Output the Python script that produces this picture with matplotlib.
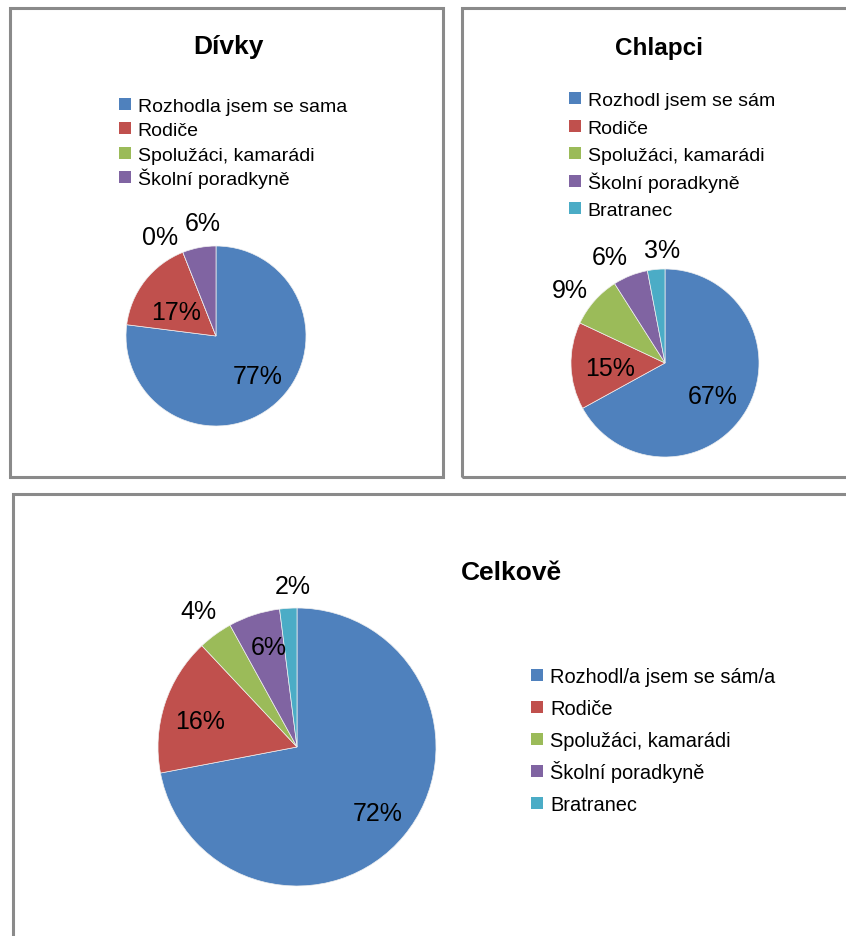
import numpy as np
import matplotlib
matplotlib.use("Agg")
import matplotlib.pyplot as plt
from matplotlib.patches import Rectangle
from matplotlib.legend_handler import HandlerBase

plt.rcParams['font.family'] = ['Liberation Sans', 'DejaVu Sans']

# ---- data ----
girls_labels = ["Rozhodla jsem se sama", "Rodiče", "Spolužáci, kamarádi", "Školní poradkyně"]
girls_values = [77, 17, 0, 6]

boys_labels = ["Rozhodl jsem se sám", "Rodiče", "Spolužáci, kamarádi", "Školní poradkyně", "Bratranec"]
boys_values = [67, 15, 9, 6, 3]

total_labels = ["Rozhodl/a jsem se sám/a", "Rodiče", "Spolužáci, kamarádi", "Školní poradkyně", "Bratranec"]
total_values = [72, 16, 4, 6, 2]

titles = ["Dívky", "Chlapci", "Celkově"]

colors = ["#4F81BD", "#C0504D", "#9BBB59", "#8064A2", "#4BACC6"]

W, H = 846, 937
fig = plt.figure(figsize=(W / 100, H / 100), dpi=100)


def fx(x):
    return x / W


def fy(y):
    return 1 - y / H


def px_axes(cx, cy, r):
    return fig.add_axes([fx(cx - r), fy(cy + r), 2 * r / W, 2 * r / H])


# panel borders
for (x0, y0, x1, y1) in [(9.5, 8.5, 442.5, 477.5), (461.5, 8.5, 900, 477.5), (12.5, 495.5, 900, 1000)]:
    fig.patches.append(Rectangle((fx(x0), fy(y1)), (x1 - x0) / W, (y1 - y0) / H,
                                 transform=fig.transFigure, fill=False,
                                 edgecolor="#8a8a8a", linewidth=2.2, zorder=0))


def draw_pie(values, cx, cy, r, dists, angle_off, fs):
    ax = px_axes(cx, cy, r)
    wedges, _ = ax.pie(values, colors=colors[:len(values)], startangle=90,
                       counterclock=False, radius=1,
                       wedgeprops=dict(linewidth=0.5, edgecolor="#f0f0f0"))
    ax.set_xlim(-1, 1)
    ax.set_ylim(-1, 1)
    ax.axis("off")
    for w, v, d, ao in zip(wedges, values, dists, angle_off):
        a = np.deg2rad((w.theta1 + w.theta2) / 2 + ao)
        ax.text(d * np.cos(a), d * np.sin(a), f"{v}%", ha="center", va="center",
                fontsize=fs, color="black", clip_on=False)
    return wedges


w1 = draw_pie(girls_values, 216, 337, 90, [0.64, 0.52, 1.26, 1.27], [5, 7, 8, -4], 18)
w2 = draw_pie(boys_values, 665, 364, 94, [0.62, 0.59, 1.27, 1.27, 1.2], [-4, 3, 4, 6, -4], 18)
w3 = draw_pie(total_values, 297, 748, 139, [0.75, 0.72, 1.21, 0.75, 1.16], [0, 3, 0, -2, -2], 18)

# titles
fig.text(fx(228), fy(47), titles[0], ha="center", va="center", fontsize=19, fontweight="bold")
fig.text(fx(659), fy(49), titles[1], ha="center", va="center", fontsize=17.5, fontweight="bold")
fig.text(fx(511), fy(573), titles[2], ha="center", va="center", fontsize=19, fontweight="bold")


class SquareHandler(HandlerBase):
    """Small square legend key, centred at mid cap-height of the label."""

    def create_artists(self, legend, orig_handle, xdescent, ydescent, width, height,
                       fontsize, trans):
        s = 8.6
        cx = -xdescent + width / 2
        cy = 0.36 * fontsize
        r = Rectangle((cx - s / 2, cy - s / 2), s, s,
                      facecolor=orig_handle.get_facecolor(), linewidth=0, transform=trans)
        return [r]


common = dict(frameon=False, loc="upper left", borderpad=0, borderaxespad=0,
              handlelength=0.62, handletextpad=0.35,
              handler_map={matplotlib.patches.Wedge: SquareHandler()})
fig.legend(w1, girls_labels, bbox_to_anchor=(fx(119), fy(92)), fontsize=14,
           handleheight=1.8, labelspacing=-0.16, **common)
fig.legend(w2, boys_labels, bbox_to_anchor=(fx(569), fy(86.5)), fontsize=14,
           handleheight=1.79, labelspacing=0, **common)
fig.legend(w3, total_labels, bbox_to_anchor=(fx(531), fy(660.5)), fontsize=14.4,
           handleheight=2.09, labelspacing=0, **common)

fig.savefig("out.png", dpi=100)
